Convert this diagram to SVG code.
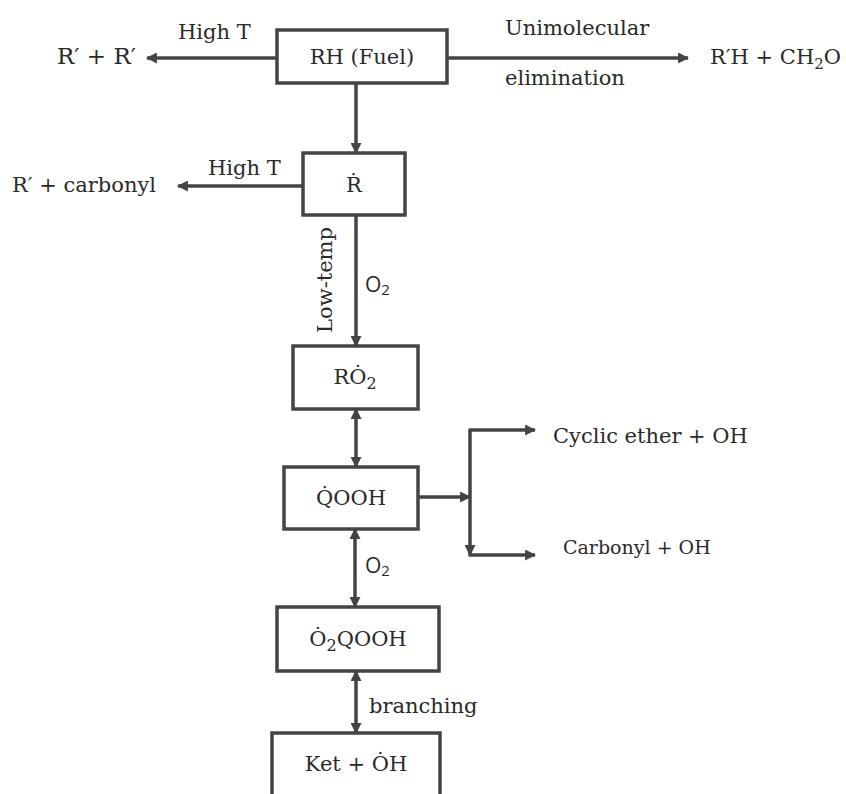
<svg xmlns="http://www.w3.org/2000/svg" width="846" height="794" viewBox="0 0 846 794">
  <defs>
    <marker id="arrow" viewBox="0 0 10 10" refX="9" refY="5" markerWidth="11" markerHeight="11" markerUnits="userSpaceOnUse" orient="auto-start-reverse">
      <path d="M0,0 L10,5 L0,10 z" fill="#444"/>
    </marker>
    <style>
      .box { fill: #fff; stroke: #444; stroke-width: 3.5; }
      .ln { fill: none; stroke: #444; stroke-width: 3.5; }
      .t { font-family: "DejaVu Serif", "Liberation Serif", serif; font-size: 21px; fill: #2a2a2a; }
      .big { font-size: 23px; }
      .sm { font-size: 19px; }
      .sans { font-family: "Open Sans", "Liberation Sans", sans-serif; font-size: 21px; fill: #2a2a2a; }
      .mid { text-anchor: middle; }
      .end { text-anchor: end; }
    </style>
  </defs>
  <rect width="846" height="794" fill="#fff"/>

  <!-- reaction arrows -->
  <g id="connectors">
    <line class="ln" x1="277" y1="58" x2="147" y2="58" marker-end="url(#arrow)"/>
    <line class="ln" x1="447" y1="58" x2="688" y2="58" marker-end="url(#arrow)"/>
    <line class="ln" x1="356" y1="83" x2="356" y2="153" marker-end="url(#arrow)"/>
    <line class="ln" x1="303" y1="186" x2="178" y2="186" marker-end="url(#arrow)"/>
    <line class="ln" x1="356" y1="215" x2="356" y2="346" marker-end="url(#arrow)"/>
    <line class="ln" x1="356" y1="409" x2="356" y2="467" marker-start="url(#arrow)" marker-end="url(#arrow)"/>
    <line class="ln" x1="418" y1="497" x2="470" y2="497" marker-end="url(#arrow)"/>
    <line class="ln" x1="470" y1="430" x2="470" y2="555" marker-end="url(#arrow)"/>
    <line class="ln" x1="468.5" y1="430" x2="535" y2="430" marker-end="url(#arrow)"/>
    <line class="ln" x1="468.5" y1="555" x2="535" y2="555" marker-end="url(#arrow)"/>
    <line class="ln" x1="355" y1="529" x2="355" y2="607" marker-start="url(#arrow)" marker-end="url(#arrow)"/>
    <line class="ln" x1="356" y1="671" x2="356" y2="733" marker-start="url(#arrow)" marker-end="url(#arrow)"/>
  </g>

  <!-- arrow labels and products -->
  <g id="labels">
    <text class="t big" x="57" y="64">R′ + R′</text>
    <text class="t" x="178" y="39">High T</text>
    <text class="t" x="505" y="35">Unimolecular</text>
    <text class="t" x="505" y="85">elimination</text>
    <text class="t end" x="841" y="64">R′H + CH<tspan font-size="15" dy="5">2</tspan><tspan dy="-5">O</tspan></text>
    <text class="t" x="12" y="192">R′ + carbonyl</text>
    <text class="t" x="208" y="175">High T</text>
    <text class="t mid" transform="translate(332,280) rotate(-90)">Low-temp</text>
    <text class="sans" x="365" y="292">O<tspan font-size="15" dy="3">2</tspan></text>
    <text class="t" x="553" y="443">Cyclic ether + OH</text>
    <text class="t sm" x="563" y="554">Carbonyl + OH</text>
    <text class="sans" x="365" y="573">O<tspan font-size="15" dy="3">2</tspan></text>
    <text class="t" x="369" y="713">branching</text>
  </g>

  <g id="node-rh">
    <rect class="box" x="277" y="30" width="170" height="53"/>
    <text class="t mid" x="362" y="64">RH (Fuel)</text>
  </g>
  <g id="node-r">
    <rect class="box" x="303" y="153" width="102" height="62"/>
    <text class="t mid" x="354" y="192">Ṙ</text>
  </g>
  <g id="node-ro2">
    <rect class="box" x="293" y="346" width="125" height="63"/>
    <text class="t mid" x="355" y="384">RȮ<tspan font-size="16" dy="5">2</tspan></text>
  </g>
  <g id="node-qooh">
    <rect class="box" x="284" y="467" width="134" height="62"/>
    <text class="t mid" x="351" y="505">Q̇OOH</text>
  </g>
  <g id="node-o2qooh">
    <rect class="box" x="277" y="607" width="162" height="64"/>
    <text class="t mid" x="358" y="646">Ȯ<tspan font-size="16" dy="5">2</tspan><tspan dy="-5">QOOH</tspan></text>
  </g>
  <g id="node-ket">
    <rect class="box" x="272" y="733" width="168" height="80"/>
    <text class="t mid" x="356" y="771">Ket + ȮH</text>
  </g>
</svg>
